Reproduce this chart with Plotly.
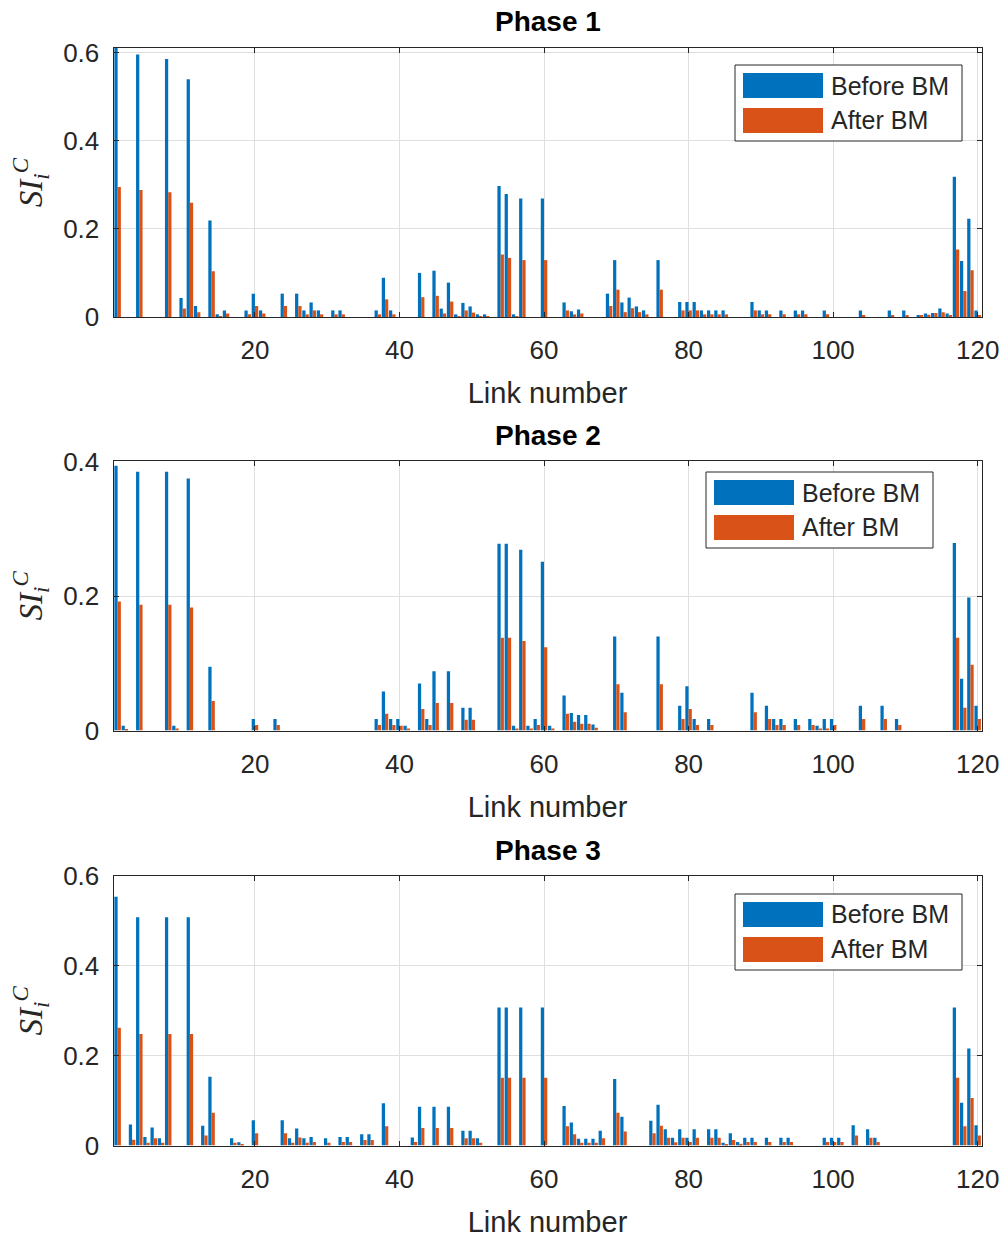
import plotly.graph_objects as go

# ---------------- data ----------------
p1_links = [1, 4, 8, 10, 11, 12, 14, 15, 16, 19, 20, 21, 24, 26, 27, 28, 29, 31, 32, 37, 38, 39,
            43, 45, 46, 47, 48, 49, 50, 51, 52, 54, 55, 56, 57, 60, 63, 64, 65, 69, 70, 71, 72, 73, 74,
            76, 79, 80, 81, 82, 83, 84, 85, 89, 90, 91, 93, 95, 96, 99, 104, 108, 110, 112, 113, 114,
            115, 116, 117, 118, 119, 120]
p1_before = [0.61, 0.595, 0.585, 0.043, 0.539, 0.025, 0.219, 0.006, 0.015, 0.015, 0.053, 0.015, 0.053,
             0.053, 0.015, 0.033, 0.015, 0.015, 0.015, 0.015, 0.089, 0.015,
             0.100, 0.105, 0.019, 0.078, 0.006, 0.032, 0.024, 0.006, 0.006, 0.297, 0.279, 0.006, 0.269,
             0.269, 0.033, 0.013, 0.017, 0.053, 0.129, 0.033, 0.044, 0.024, 0.015,
             0.129, 0.034, 0.034, 0.034, 0.015, 0.015, 0.015, 0.015, 0.034, 0.015, 0.015, 0.015, 0.015,
             0.015, 0.015, 0.015, 0.015, 0.015, 0.003, 0.008, 0.009,
             0.019, 0.008, 0.318, 0.127, 0.223, 0.015]
p1_after = [0.295, 0.288, 0.283, 0.019, 0.259, 0.011, 0.104, 0.001, 0.008, 0.006, 0.025, 0.008, 0.025,
            0.025, 0.006, 0.015, 0.006, 0.006, 0.006, 0.006, 0.040, 0.006,
            0.045, 0.048, 0.008, 0.035, 0.002, 0.015, 0.010, 0.002, 0.002, 0.142, 0.134, 0.002, 0.129,
            0.129, 0.015, 0.006, 0.008, 0.025, 0.062, 0.011, 0.020, 0.011, 0.006,
            0.062, 0.015, 0.015, 0.015, 0.006, 0.006, 0.006, 0.006, 0.015, 0.006, 0.006, 0.006, 0.006,
            0.006, 0.006, 0.004, 0.004, 0.004, 0.004, 0.005, 0.009,
            0.011, 0.003, 0.153, 0.059, 0.106, 0.004]

p2_links = [1, 2, 4, 8, 9, 11, 14, 20, 23, 37, 38, 39, 40, 41, 43, 44, 45, 47, 49, 50, 54, 55, 56, 57,
            58, 59, 60, 61, 63, 64, 65, 66, 67, 70, 71, 76, 79, 80, 81, 83, 89, 91, 92, 93, 95, 97, 98,
            99, 100, 104, 107, 109, 117, 118, 119, 120]
p2_before = [0.394, 0.007, 0.385, 0.385, 0.007, 0.375, 0.095, 0.017, 0.017, 0.017, 0.058, 0.017, 0.017,
             0.007, 0.070, 0.017, 0.088, 0.088, 0.034, 0.034, 0.278, 0.278, 0.007, 0.269,
             0.007, 0.017, 0.251, 0.007, 0.052, 0.026, 0.023, 0.023, 0.009, 0.140, 0.056, 0.140, 0.037,
             0.066, 0.017, 0.017, 0.056, 0.037, 0.017, 0.017, 0.017, 0.017, 0.007,
             0.017, 0.017, 0.037, 0.037, 0.017, 0.279, 0.077, 0.198, 0.037]
p2_after = [0.192, 0.001, 0.187, 0.187, 0.003, 0.183, 0.044, 0.008, 0.008, 0.008, 0.025, 0.008, 0.007,
            0.003, 0.032, 0.008, 0.041, 0.041, 0.016, 0.016, 0.138, 0.138, 0.003, 0.133,
            0.003, 0.008, 0.124, 0.003, 0.025, 0.013, 0.010, 0.010, 0.004, 0.069, 0.027, 0.069, 0.017,
            0.032, 0.008, 0.008, 0.027, 0.017, 0.008, 0.008, 0.008, 0.008, 0.003,
            0.003, 0.008, 0.017, 0.017, 0.008, 0.138, 0.034, 0.098, 0.017]

p3_links = [1, 3, 4, 5, 6, 7, 8, 11, 13, 14, 17, 18, 20, 24, 25, 26, 27, 28, 30, 32, 33, 35, 36, 38,
            42, 43, 45, 47, 49, 50, 51, 54, 55, 57, 60, 63, 64, 65, 66, 67, 68, 70, 71, 75, 76, 77, 78,
            79, 80, 81, 83, 84, 85, 86, 87, 88, 89, 91, 93, 94, 99, 100, 101, 103, 105, 106,
            117, 118, 119, 120]
p3_before = [0.554, 0.047, 0.508, 0.019, 0.040, 0.016, 0.508, 0.508, 0.044, 0.153, 0.016, 0.007, 0.056,
             0.056, 0.016, 0.038, 0.016, 0.019, 0.016, 0.019, 0.019, 0.025, 0.025, 0.094,
             0.018, 0.086, 0.086, 0.086, 0.033, 0.033, 0.016, 0.307, 0.307, 0.307, 0.307, 0.088, 0.051,
             0.015, 0.015, 0.015, 0.033, 0.148, 0.064, 0.055, 0.091, 0.036, 0.017,
             0.036, 0.017, 0.036, 0.036, 0.036, 0.006, 0.027, 0.008, 0.017, 0.017, 0.017, 0.017, 0.017,
             0.017, 0.017, 0.017, 0.045, 0.036, 0.017,
             0.307, 0.095, 0.216, 0.045]
p3_after = [0.262, 0.013, 0.248, 0.006, 0.016, 0.006, 0.248, 0.248, 0.022, 0.073, 0.006, 0.002, 0.027,
            0.027, 0.006, 0.018, 0.006, 0.008, 0.006, 0.008, 0.008, 0.012, 0.012, 0.043,
            0.008, 0.039, 0.039, 0.039, 0.016, 0.016, 0.006, 0.151, 0.151, 0.151, 0.151, 0.043, 0.025,
            0.006, 0.006, 0.006, 0.016, 0.073, 0.031, 0.027, 0.044, 0.017, 0.007,
            0.017, 0.008, 0.017, 0.017, 0.017, 0.002, 0.012, 0.004, 0.008, 0.008, 0.008, 0.008, 0.008,
            0.008, 0.008, 0.008, 0.022, 0.017, 0.008,
            0.151, 0.043, 0.106, 0.022]

phase_titles = ["Phase 1", "Phase 2", "Phase 3"]
series_names = ["Before BM", "After BM"]
x_ticks = [20, 40, 60, 80, 100, 120]
y_ticks = [[0, 0.2, 0.4, 0.6], [0, 0.2, 0.4], [0, 0.2, 0.4, 0.6]]
y_ranges = [[0, 0.61], [0, 0.401], [0, 0.6]]

# ---------------- styling ----------------
W, H = 1008, 1241
BLUE = "#0072BD"
ORANGE = "#D95319"
AX = "#262626"
GRID = "#dfdfdf"
FONT = "Liberation Sans, Arial, sans-serif"

def px(x):
    return x / W

def py(y):
    return 1 - y / H

# axes pixel boxes (top, bottom)
boxes = [(48, 317), (461, 730.5), (876, 1145.5)]
x_left, x_right = 113.5, 981.5

data = [(p1_links, p1_before, p1_after),
        (p2_links, p2_before, p2_after),
        (p3_links, p3_before, p3_after)]

fig = go.Figure()
layout = dict(
    width=W, height=H,
    margin=dict(l=0, r=0, t=0, b=0),
    paper_bgcolor="white", plot_bgcolor="white",
    barmode="group", bargap=0.1, bargroupgap=0.0,
    showlegend=False,
    font=dict(family=FONT, color=AX, size=24),
)

annotations = []
shapes = []
for i, (links, before, after) in enumerate(data):
    sfx = "" if i == 0 else str(i + 1)
    xa = "x" + sfx
    ya = "y" + sfx
    fig.add_trace(go.Bar(x=links, y=before, name=series_names[0], marker=dict(color=BLUE, line=dict(width=0)),
                         xaxis=xa, yaxis=ya, offsetgroup="a"))
    fig.add_trace(go.Bar(x=links, y=after, name=series_names[1], marker=dict(color=ORANGE, line=dict(width=0)),
                         xaxis=xa, yaxis=ya, offsetgroup="b"))
    top, bot = boxes[i]
    layout["xaxis" + sfx] = dict(
        domain=[px(x_left), px(x_right)], anchor=ya, range=[0.43, 120.53],
        tickvals=x_ticks, ticks="inside", ticklen=5, tickcolor=AX,
        showline=True, linecolor=AX, linewidth=1, mirror="ticks",
        showgrid=True, gridcolor=GRID, gridwidth=1, zeroline=False,
        tickfont=dict(size=26, color=AX, family=FONT), ticklabelstandoff=10,
        title=dict(text="Link number", font=dict(size=29, color=AX, family=FONT), standoff=18),
        automargin=False,
    )
    layout["yaxis" + sfx] = dict(
        domain=[py(bot), py(top)], anchor=xa, range=y_ranges[i],
        tickvals=y_ticks[i], ticktext=[("%g" % v) for v in y_ticks[i]],
        ticks="inside", ticklen=5, tickcolor=AX,
        showline=True, linecolor=AX, linewidth=1, mirror="ticks",
        showgrid=True, gridcolor=GRID, gridwidth=1, zeroline=False,
        tickfont=dict(size=26, color=AX, family=FONT), ticklabelstandoff=8,
        title=dict(text="<i>SI</i><sub><i>i</i></sub><sup><i>C</i></sup>",
                   font=dict(size=33, color=AX, family="Liberation Serif, serif"), standoff=10),
        automargin=False,
    )
    # subplot title
    annotations.append(dict(text="<b>%s</b>" % phase_titles[i], x=0.5 * (px(x_left) + px(x_right)),
                            y=py(top - 26), xref="paper", yref="paper", showarrow=False,
                            xanchor="center", yanchor="middle",
                            font=dict(size=28, color="black", family=FONT)))
    # legend (drawn box with large swatches like the original)
    lx = 735 if i != 1 else 706
    ly = [65, 472, 894][i]
    shapes.append(dict(type="rect", xref="paper", yref="paper",
                       x0=px(lx), x1=px(lx + 227), y0=py(ly), y1=py(ly + 76),
                       line=dict(color=AX, width=1), fillcolor="white", layer="above"))
    for k, col in enumerate([BLUE, ORANGE]):
        y0 = ly + 8 + k * 35
        shapes.append(dict(type="rect", xref="paper", yref="paper",
                           x0=px(lx + 8), x1=px(lx + 88), y0=py(y0), y1=py(y0 + 25),
                           line=dict(width=0), fillcolor=col, layer="above"))
        annotations.append(dict(text=series_names[k], x=px(lx + 94), y=py(y0 + 12.5),
                                xref="paper", yref="paper", showarrow=False,
                                xanchor="left", yanchor="middle",
                                font=dict(size=25, color=AX, family=FONT)))

layout["annotations"] = annotations
layout["shapes"] = shapes
fig.update_layout(**layout)
fig.write_html("out.html")
